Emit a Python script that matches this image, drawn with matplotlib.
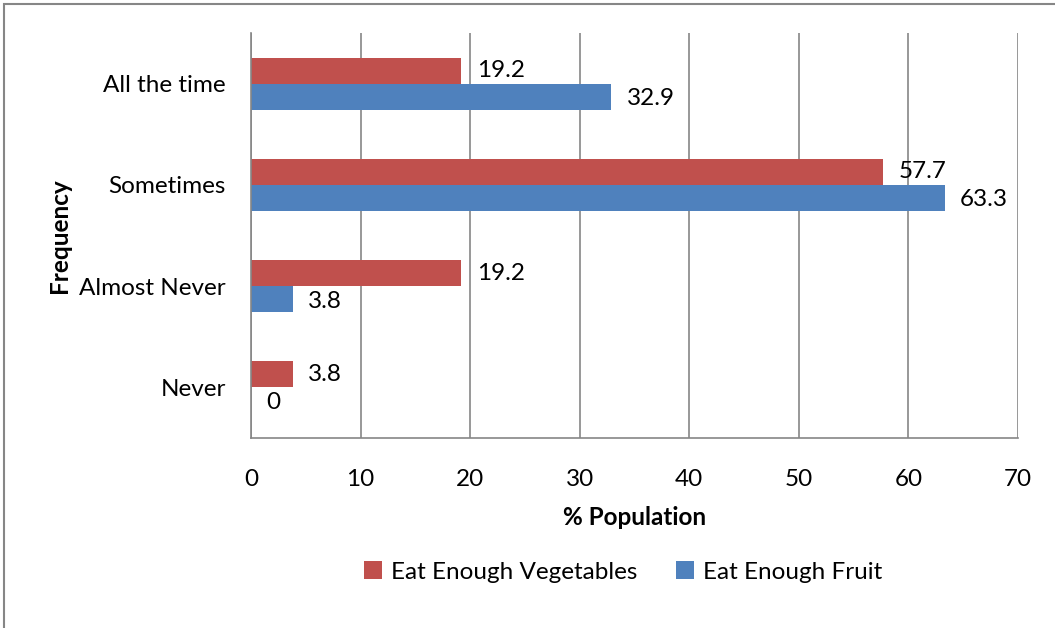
import matplotlib.pyplot as plt
import numpy as np
from matplotlib.patches import Rectangle

# Survey data
categories = ["Never", "Almost Never", "Sometimes", "All the time"]
vegetables = [3.8, 19.2, 57.7, 19.2]
fruit = [0, 3.8, 63.3, 32.9]
xticks = [0, 10, 20, 30, 40, 50, 60, 70]

red = "#C0504D"
blue = "#4F81BD"
grid_col = "#868686"
fs = 17.5

plt.rcParams["font.family"] = ["Lato", "DejaVu Sans"]

fig = plt.figure(figsize=(10.55, 6.28), dpi=100)
ax = fig.add_axes([251 / 1055, 1 - 438 / 628, (1018 - 251) / 1055, (438 - 33) / 628])

y = np.arange(len(categories))
h = 0.257
ax.barh(y + h / 2, vegetables, height=h, color=red, label="Eat Enough Vegetables")
ax.barh(y - h / 2, fruit, height=h, color=blue, label="Eat Enough Fruit")

# value labels just past the end of each bar
for yi, v in zip(y, vegetables):
    ax.text(v + 1.4, yi + h / 2, f"{v:g}", va="center", ha="left", fontsize=fs)
for yi, v in zip(y, fruit):
    ax.text(v + 1.4, yi - h / 2 - 0.02, f"{v:g}", va="center", ha="left", fontsize=fs)

ax.set_xlim(0, 70)
ax.set_ylim(-0.5, 3.5)
ax.set_xticks(xticks)
ax.set_yticks(y)
ax.set_yticklabels(categories)
ax.tick_params(axis="both", length=0, labelsize=fs)
ax.tick_params(axis="x", pad=22)
ax.tick_params(axis="y", pad=18)

ax.xaxis.grid(True, color=grid_col, linewidth=1.2)
ax.set_axisbelow(True)
for s in ["top", "right"]:
    ax.spines[s].set_visible(False)
for s in ["left", "bottom"]:
    ax.spines[s].set_color(grid_col)
    ax.spines[s].set_linewidth(1.2)

ax.set_xlabel("% Population", fontsize=fs, fontweight="bold", labelpad=12)
ax.set_ylabel("Frequency", fontsize=fs, fontweight="bold", labelpad=6)

fig.legend(loc="center", bbox_to_anchor=(623 / 1055, 1 - 572 / 628), ncol=2,
           frameon=False, fontsize=fs, handlelength=0.75, handleheight=0.75,
           handletextpad=0.35, columnspacing=1.6)

# chart frame
fig.patches.append(Rectangle((4 / 1055, -0.1), 1.2, 1 - 4 / 628 + 0.1,
                             transform=fig.transFigure, fill=False,
                             edgecolor=grid_col, linewidth=1.5))

fig.savefig("out.png", dpi=100)
